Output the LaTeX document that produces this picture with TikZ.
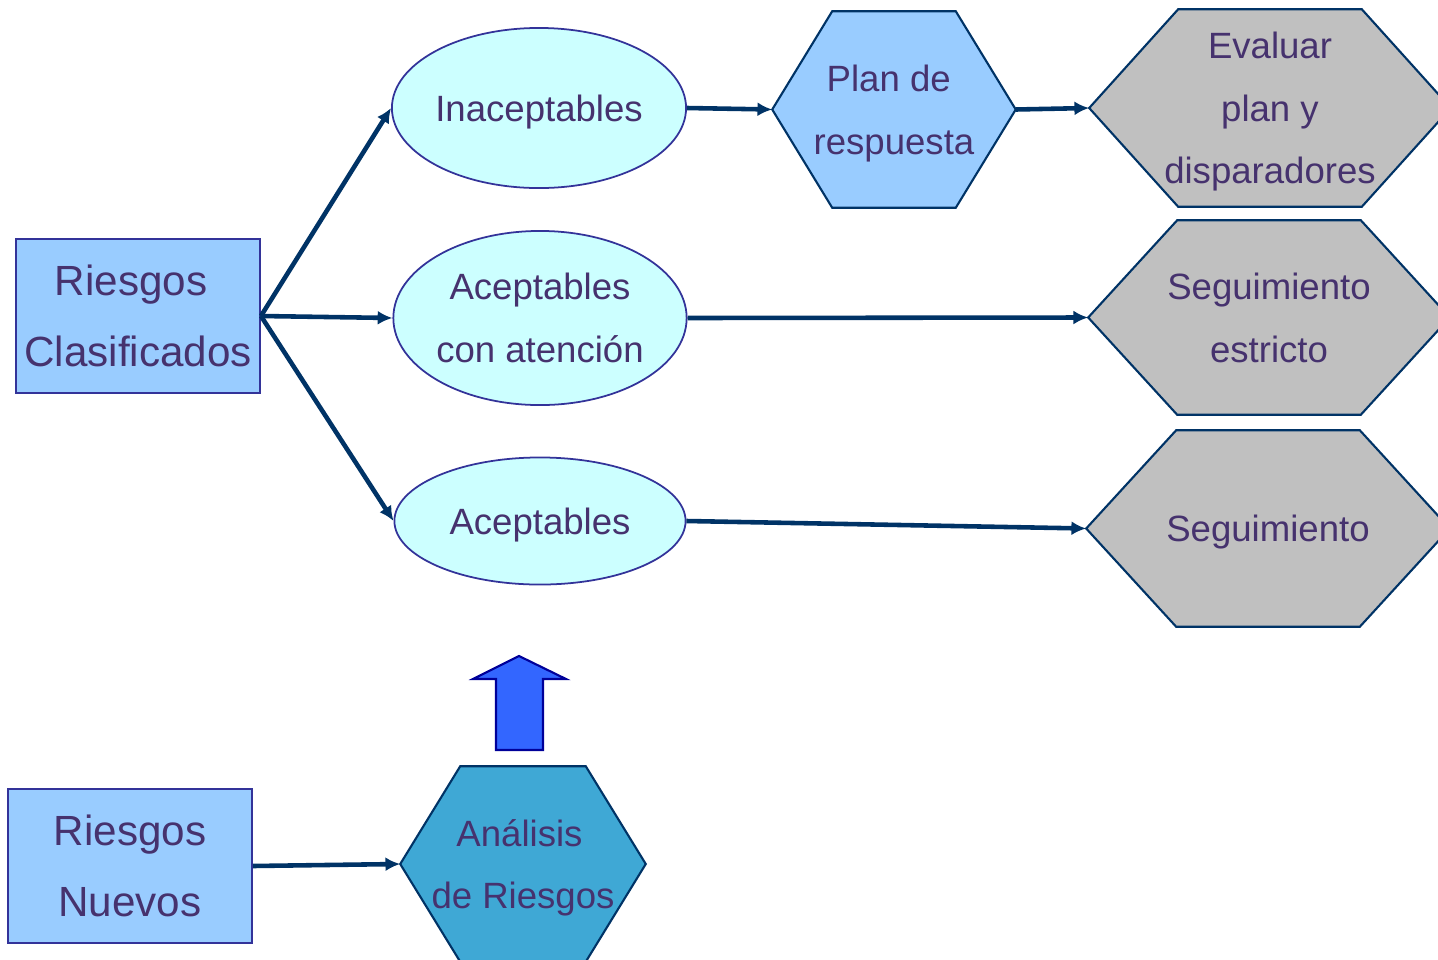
\documentclass[tikz,border=0pt]{standalone}
\usepackage{fontspec}
\setmainfont{Liberation Sans}
\usetikzlibrary{shapes.geometric,arrows.meta,calc}
\definecolor{txt}{RGB}{70,50,110}
\definecolor{navy}{RGB}{0,51,102}
\definecolor{bord}{RGB}{51,51,153}
\definecolor{rectfill}{RGB}{153,204,255}
\definecolor{ellfill}{RGB}{204,255,255}
\definecolor{grayfill}{RGB}{192,192,192}
\definecolor{anfill}{RGB}{63,168,213}
\definecolor{bluearrow}{RGB}{51,102,255}
\definecolor{bluebord}{RGB}{0,0,153}
\pgfdeclarelayer{bg}
\pgfsetlayers{bg,main}
\tikzset{
  lbl/.style={text=txt, align=center, inner sep=0pt},
  boxnode/.style={lbl, draw=bord, line width=0.5pt, fill=rectfill, rectangle},
  ellnode/.style={lbl, draw=bord, line width=0.5pt, fill=ellfill, ellipse},
  hexnode/.style={lbl, rectangle, draw=none},
  hexline/.style={draw=navy, line width=0.6pt},
  conn/.style={draw=navy, line width=1.3pt, -{Latex[length=4.2pt,width=4pt]}},
  big/.style={font=\fontsize{12pt}{20.4pt}\selectfont},
  mid/.style={font=\fontsize{10.4pt}{17.8pt}\selectfont, text depth=0pt},
}
\newcommand\hexpath[3]{% node, chamfer, fill
  \begin{pgfonlayer}{bg}
  \path[hexline, fill=#3] (#1.west) -- ($(#1.north west)+(#2,0)$) -- ($(#1.north east)-(#2,0)$) -- (#1.east)
    -- ($(#1.south east)-(#2,0)$) -- ($(#1.south west)+(#2,0)$) -- cycle;
  \end{pgfonlayer}}
\begin{document}
\begin{tikzpicture}[x=0.01cm,y=-0.01cm]
\useasboundingbox (0,0) rectangle (1438,960);
\clip (0,0) rectangle (1438,960);

% boxes
\node[boxnode, big, minimum width=2.44cm, minimum height=1.54cm] (clas) at (138,316) {Riesgos\hspace*{4pt}\\Clasificados};
\node[boxnode, big, minimum width=2.44cm, minimum height=1.54cm] (nuev) at (130,866) {Riesgos\\Nuevos};

% ellipses
\node[ellnode, mid, minimum width=2.94cm, minimum height=1.60cm] (inac) at (539,108) {Inaceptables};
\node[ellnode, mid, minimum width=2.91cm, minimum height=1.74cm] (acat) at (540,318) {Aceptables\\con atención};
\node[ellnode, mid, minimum width=2.91cm, minimum height=1.27cm] (acep) at (540,521) {Aceptables};

% hexagons
\node[hexnode, mid, minimum width=2.42cm, minimum height=1.95cm] (plan) at (894,109.5) {Plan de\hspace*{3pt}\\respuesta};
\hexpath{plan}{60}{rectfill}
\node[hexnode, mid, minimum width=3.60cm, minimum height=1.96cm] (eval) at (1270,108) {Evaluar\\plan y\\disparadores};
\hexpath{eval}{89}{grayfill}
\node[hexnode, mid, minimum width=3.60cm, minimum height=1.93cm] (segest) at (1269,317.5) {Seguimiento\\estricto};
\hexpath{segest}{89}{grayfill}
\node[hexnode, mid, minimum width=3.62cm, minimum height=1.95cm] (seg) at (1268,528.5) {Seguimiento};
\hexpath{seg}{90}{grayfill}
\node[hexnode, mid, minimum width=2.44cm, minimum height=1.94cm] (anal) at (523,864) {Análisis\hspace*{2pt}\\de Riesgos};
\hexpath{anal}{60}{anfill}

% block arrow
\draw[fill=bluearrow, draw=bluebord, line width=0.6pt] (496,750) -- (496,679) -- (473,679) -- (519,656) -- (566,679) -- (543,679) -- (543,750) -- cycle;

% connectors
\coordinate (src) at (clas.east);
\draw[conn] (src) -- (inac.west);
\draw[conn] (src) -- (acat.west);
\draw[conn] (src) -- (acep.west);
\draw[conn] (inac.east) -- (plan.west);
\draw[conn] (plan.east) -- (eval.west);
\draw[conn] (acat.east) -- (segest.west);
\draw[conn] (acep.east) -- (seg.west);
\draw[conn] (nuev.east) -- (anal.west);
\end{tikzpicture}
\end{document}
